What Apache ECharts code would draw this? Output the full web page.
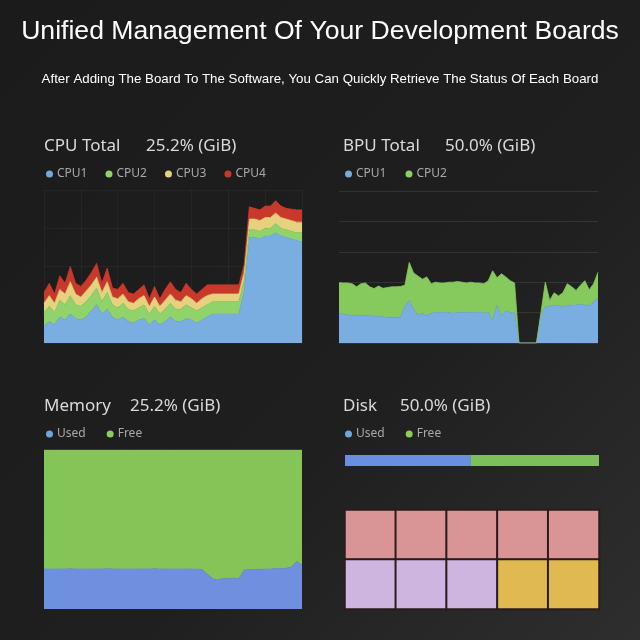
<!DOCTYPE html>
<html>
<head>
<meta charset="utf-8">
<title>Development Boards</title>
<script src="https://cdn.jsdelivr.net/npm/echarts@6/dist/echarts.min.js"></script>
<style>
  html, body { margin: 0; padding: 0; background: #1b1b1b; }
  #main { width: 640px; height: 640px; }
</style>
</head>
<body>
<div id="main"></div>
<script>
// CPU load per core (stacked, % of total)
const cpuCore1 = [11,14,12,17,15,19,16,15,17,21, 25,19,22,17,15,17,14,13,15,16, 12,15,12,14,17,14,14,16,15,13, 15,17,19,19,19,19,19,19,34,69, 69,68,70,70,72,70,69,68,67,66];
const cpuCore2 = [9,10,8,11,10,12,9,9,10,10, 11,8,11,8,8,9,8,8,8,9, 7,9,7,8,9,8,8,9,8,8, 8,8,8,8,8,8,8,8,7,5, 5,5,5,5,6,5,5,5,5,6];
const cpuCore3 = [6,7,6,7,7,9,7,6,7,7, 7,6,7,5,6,6,5,5,6,6, 5,6,5,6,6,6,5,6,6,5, 6,6,5,5,5,5,5,5,5,7, 7,7,7,7,7,7,7,7,7,7];
const cpuCore4 = [7,8,6,9,7,10,7,7,7,8, 9,6,9,6,6,7,6,6,6,7, 5,7,5,7,8,7,6,8,6,6, 6,7,6,6,6,6,6,6,5,8, 7,7,7.5,7.5,8,7.5,7,7.5,8,8];

// BPU load per core (stacked)
const bpuCore1 = [19.6,19,18.5,18.2,18,18,18.3,18,17.8,17.5, 17.2,17,17,17,17,24,28,22,18.5,19.5, 18,19.5,20,20,20.2,20,19.5,20,20.3,20, 20,20.2,20,19.8,20,15,25,18,21,20, 19.8,0,0,0,0,0,18,24,24,25, 24.5,24,24.5,25,25,25.5,25,24.5,27,30];
const bpuCore2 = [20.1,20.5,21,20.8,19,21,21.2,19,18,20, 18.8,19.5,20,20,20.2,14,25,24,25.5,22.5, 25.5,19.5,20,19.5,19.3,20,20.5,20.5,19.7,19.5, 20,19.3,19.5,19.2,21,32.5,18,27.5,22.5,21, 19.7,0,0,0,0,0,2,16,4,8, 6.5,9,14.5,12,9.6,12.5,16,10.5,12,16.5];

// Memory (%)
const memUsed = [25.2,25.2,25.1,25.2,25.2,25.3,25.2,25.2,25.1,25.2, 25.2,25.2,25.3,25.2,25.2,25.2,25.1,25.2,25.2,25.2, 25.2,25.3,25.2,25.2,25.2,25.1,25.2,25.2,25.2,25.1, 24.8,22.0,19.0,18.4,19.2,19.4,19.5,19.0,24.6,24.8, 24.9,25.0,25.1,25.2,25.4,25.5,25.6,26.5,29.8,27.6];
const memFree = [74.8,74.8,74.9,74.8,74.8,74.7,74.8,74.8,74.9,74.8, 74.8,74.8,74.7,74.8,74.8,74.8,74.9,74.8,74.8,74.8, 74.8,74.7,74.8,74.8,74.8,74.9,74.8,74.8,74.8,74.9, 75.2,78.0,81.0,81.6,80.8,80.6,80.5,81.0,75.4,75.2, 75.1,75.0,74.9,74.8,74.6,74.5,74.4,73.5,70.2,72.4];

// Disk
const diskUsed = [49.6];
const diskFree = [50.4];
const diskCols = ["1", "2", "3", "4", "5"];
const diskRows = ["A", "B"];
// 0 = system, 1 = data, 2 = cache
const diskRowA = [0, 0, 0, 0, 0];
const diskRowB = [1, 1, 1, 2, 2];

const FONT = "Noto Sans";
const titleColor = "#d9d9d9";
const legendColor = "#a8a8a8";

const chart = echarts.init(document.getElementById("main"));

function panelTitle(text, left, top) {
  return {
    text: text,
    left: left,
    top: top,
    padding: 0,
    textStyle: { color: titleColor, fontSize: 17, fontWeight: "normal", fontFamily: FONT },
  };
}

function panelLegend(items, left, top, gap) {
  return {
    data: items.map((it) => ({ name: it[0], itemStyle: { color: it[1] } })),
    left: left,
    top: top,
    padding: 0,
    icon: "circle",
    itemWidth: 7,
    itemHeight: 7,
    itemGap: gap,
    selectedMode: false,
    textStyle: { color: legendColor, fontSize: 12, fontFamily: FONT, padding: [0, 0, 0, -1] },
  };
}

function area(name, data, color, idx, stack) {
  return {
    name: name,
    type: "line",
    xAxisIndex: idx,
    yAxisIndex: idx,
    stack: stack,
    data: data,
    symbol: "none",
    silent: true,
    lineStyle: { width: 0.8, color: color },
    itemStyle: { color: color },
    areaStyle: { color: color, opacity: 1 },
  };
}

function hiddenCat(idx, split) {
  return {
    type: "category",
    gridIndex: idx,
    boundaryGap: false,
    axisLine: { show: false },
    axisTick: { show: false },
    axisLabel: { show: false },
    splitLine: split || { show: false },
  };
}

function pctAxis(idx, split, interval) {
  return {
    type: "value",
    gridIndex: idx,
    min: 0,
    max: 100,
    interval: interval,
    axisLine: { show: false },
    axisTick: { show: false },
    axisLabel: { show: false },
    splitLine: split || { show: false },
  };
}

const blockData = [];
diskRowA.forEach((v, i) => blockData.push([i, 0, v]));
diskRowB.forEach((v, i) => blockData.push([i, 1, v]));

const option = {
  animation: false,
  backgroundColor: {
    type: "linear", x: 0, y: 0, x2: 1, y2: 1,
    colorStops: [
      { offset: 0, color: "#1b1b1b" },
      { offset: 0.6, color: "#1f1f1f" },
      { offset: 1, color: "#2e2e2e" },
    ],
  },
  title: [
    {
      text: "Unified Management Of Your Development Boards",
      left: "center",
      top: 18,
      padding: 0,
      textStyle: { color: "#ffffff", fontSize: 26.6, fontWeight: "normal", fontFamily: "Liberation Sans" },
    },
    {
      text: "After Adding The Board To The Software, You Can Quickly Retrieve The Status Of Each Board",
      left: "center",
      top: 73,
      padding: 0,
      textStyle: { color: "#ffffff", fontSize: 13.3, fontWeight: "normal", fontFamily: "Liberation Sans" },
    },
    panelTitle("CPU Total", 44, 138),
    panelTitle("25.2% (GiB)", 146, 138),
    panelTitle("BPU Total", 343, 138),
    panelTitle("50.0% (GiB)", 445, 138),
    panelTitle("Memory", 44, 398),
    panelTitle("25.2% (GiB)", 130, 398),
    panelTitle("Disk", 343, 398),
    panelTitle("50.0% (GiB)", 400, 398),
  ],
  legend: [
    panelLegend([["CPU1", "#74a9dc"], ["CPU2", "#8fd36a"], ["CPU3", "#e3d27f"], ["CPU4", "#c8392b"]], 46, 168, 18),
    panelLegend([["CPU1", "#7aa9dc"], ["CPU2", "#8bcf62"]], 345, 168, 19),
    panelLegend([["Used", "#6fa6da"], ["Free", "#8ccd5c"]], 46, 428, 21),
    panelLegend([["Used", "#6fa6da"], ["Free", "#8ccd5c"]], 345, 428, 21),
  ],
  grid: [
    { left: 44, top: 190, width: 258, height: 153 },
    { left: 339, top: 191, width: 259, height: 152 },
    { left: 44, top: 450, width: 258, height: 159 },
    { left: 345, top: 455, width: 254, height: 11 },
    { left: 345, top: 510, width: 254, height: 99 },
  ],
  xAxis: [
    hiddenCat(0, { show: true, interval: 6, lineStyle: { color: "rgba(255,255,255,0.04)" } }),
    hiddenCat(1),
    hiddenCat(2),
    { type: "value", gridIndex: 3, min: 0, max: 100, show: false },
    { type: "category", gridIndex: 4, data: diskCols, show: false },
  ],
  yAxis: [
    pctAxis(0, { show: true, lineStyle: { color: "rgba(255,255,255,0.04)" } }, 25),
    pctAxis(1, { show: true, lineStyle: { color: "rgba(255,255,255,0.09)" } }, 20),
    pctAxis(2, null, 25),
    { type: "category", gridIndex: 3, data: ["disk"], show: false },
    { type: "category", gridIndex: 4, data: diskRows, inverse: true, show: false },
  ],
  visualMap: {
    type: "piecewise",
    show: false,
    seriesIndex: 10,
    dimension: 2,
    pieces: [
      { value: 0, color: "#d99595" },
      { value: 1, color: "#cdb5e0" },
      { value: 2, color: "#e0ba50" },
    ],
  },
  series: [
    area("CPU1", cpuCore1, "#7aaee0", 0, "cpu"),
    area("CPU2", cpuCore2, "#8fd36a", 0, "cpu"),
    area("CPU3", cpuCore3, "#e6d27e", 0, "cpu"),
    area("CPU4", cpuCore4, "#c8392b", 0, "cpu"),
    area("CPU1", bpuCore1, "#7aaee0", 1, "bpu"),
    area("CPU2", bpuCore2, "#86c95c", 1, "bpu"),
    area("Used", memUsed, "#6f90de", 2, "mem"),
    area("Free", memFree, "#85c558", 2, "mem"),
    {
      name: "Used", type: "bar", xAxisIndex: 3, yAxisIndex: 3, stack: "disk",
      data: diskUsed, barWidth: "100%", silent: true, itemStyle: { color: "#6a8ee0" },
    },
    {
      name: "Free", type: "bar", xAxisIndex: 3, yAxisIndex: 3, stack: "disk",
      data: diskFree, barWidth: "100%", silent: true, itemStyle: { color: "#7dbf5a" },
    },
    {
      name: "Blocks", type: "heatmap", xAxisIndex: 4, yAxisIndex: 4,
      data: blockData, silent: true,
      itemStyle: { borderColor: "#2a1c1e", borderWidth: 2 },
    },
  ],
};

chart.setOption(option);
window.addEventListener("resize", () => chart.resize());
</script>
</body>
</html>
